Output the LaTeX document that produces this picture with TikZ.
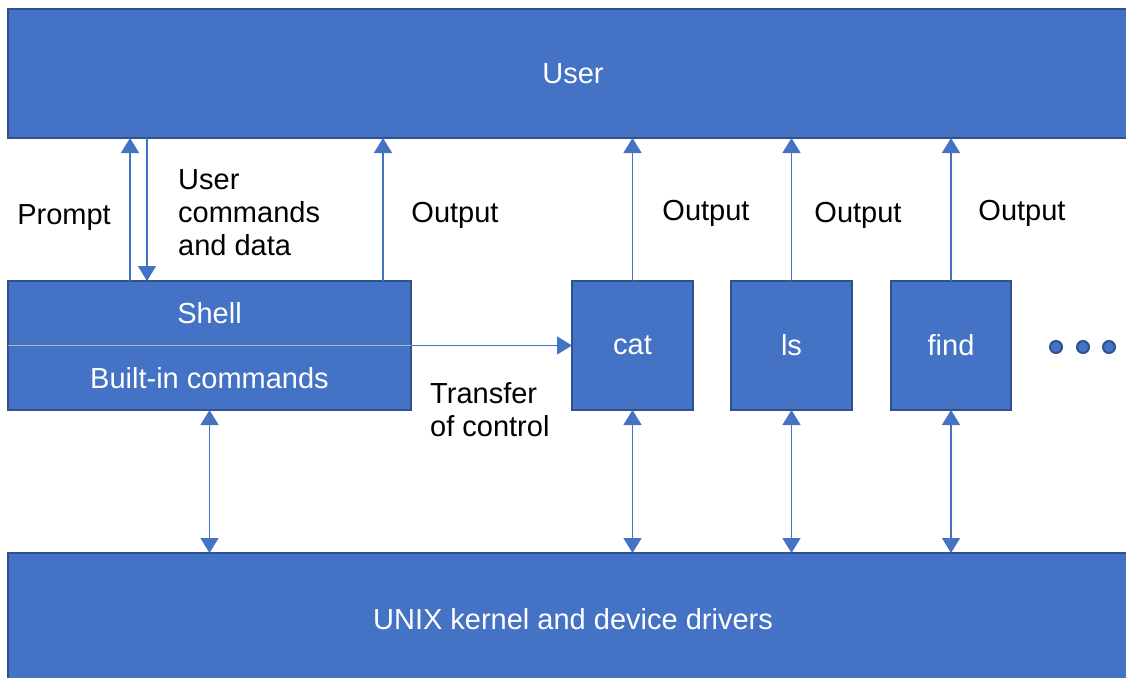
\documentclass[tikz,border=0pt]{standalone}
\usepackage{fontspec}
\setmainfont{Liberation Sans}
\usetikzlibrary{calc}
\usetikzlibrary{arrows,arrows.meta}
\tikzset{>={Triangle[width=18pt,length=15pt]}}
\definecolor{Bfill}{HTML}{4472C4}
\definecolor{Bline}{HTML}{2F528F}
\newcommand\diagfont{\fontsize{29}{33}\selectfont}
\tikzset{
  box/.style={draw=Bline,fill=Bfill,line width=2,text=white,inner sep=0,
    outer sep=0,anchor=north west,font=\diagfont},
  flow/.style={Bfill,line width=1.5},
  lbl/.style={font=\diagfont,align=left,inner sep=0}
}

\begin{document}
\begin{tikzpicture}[x=1pt,y=-1pt]
  \def\H{129}  % height of the middle boxes
  \def\W{1130} % width of the wide layers
  \useasboundingbox (0,0) rectangle (1126,677);

  \node[box,minimum width=\W,minimum height=129] (user) at (8,9) {User};
  \node[box,minimum width=\W,minimum height=132] (kernel) at (8,553) {UNIX kernel and device drivers};

  \node[box,minimum width=403,minimum height=\H] (shell) at (8,281) {};
  \draw[gray!60,line width=1] (shell.west) -- (shell.east);
  \node[lbl,text=white] (shelltxt) at ($(shell.north)!0.25!(shell.south)$) {Shell};
  \node[lbl,text=white] (builtin) at ($(shell.north)!0.75!(shell.south)$) {Built-in commands};

  \node[box,minimum width=121,minimum height=\H] (cat) at (572,281) {cat};
  \node[box,minimum width=121,minimum height=\H] (ls) at (731,281) {ls};
  \node[box,minimum width=120,minimum height=\H] (find) at (891,281) {find};

  \foreach \x [count=\i] in {1056,1083,1109}
    \node[circle,fill=Bfill,draw=Bline,line width=2,minimum size=12,inner sep=0] (dot\i) at (\x,347) {};

  % shell <-> user
  \coordinate (pr) at ($(shell.north west)+(122,0)$);
  \coordinate (uc) at ($(shell.north west)+(139,0)$);
  \coordinate (so) at ($(shell.north west)+(375,0)$);
  \draw[->,flow] (pr) -- (pr |- user.south);
  \draw[->,flow] (uc |- user.south) -- (uc);
  \draw[->,flow] (so) -- (so |- user.south);
  \draw[->,flow] (shell.east) -- (cat.west);
  \draw[<->,flow] (shell.south) -- (shell.south |- kernel.north);

  \foreach \b in {cat,ls,find}{
    \draw[->,flow] (\b.north) -- (\b.north |- user.south);
    \draw[<->,flow] (\b.south) -- (\b.south |- kernel.north);
  }

  \node[lbl] (prompt) at (64,218) {Prompt};
  \node[lbl,anchor=west] (cmds) at (178,213) {User\\commands\\and data};
  \node[lbl] (out0) at (455,215) {Output};
  \node[lbl] (out1) at (706,213) {Output};
  \node[lbl] (out2) at (858,215) {Output};
  \node[lbl] (out3) at (1022,213) {Output};
  \node[lbl,anchor=west] (xfer) at (430,410) {Transfer\\of control};
\end{tikzpicture}
\end{document}
